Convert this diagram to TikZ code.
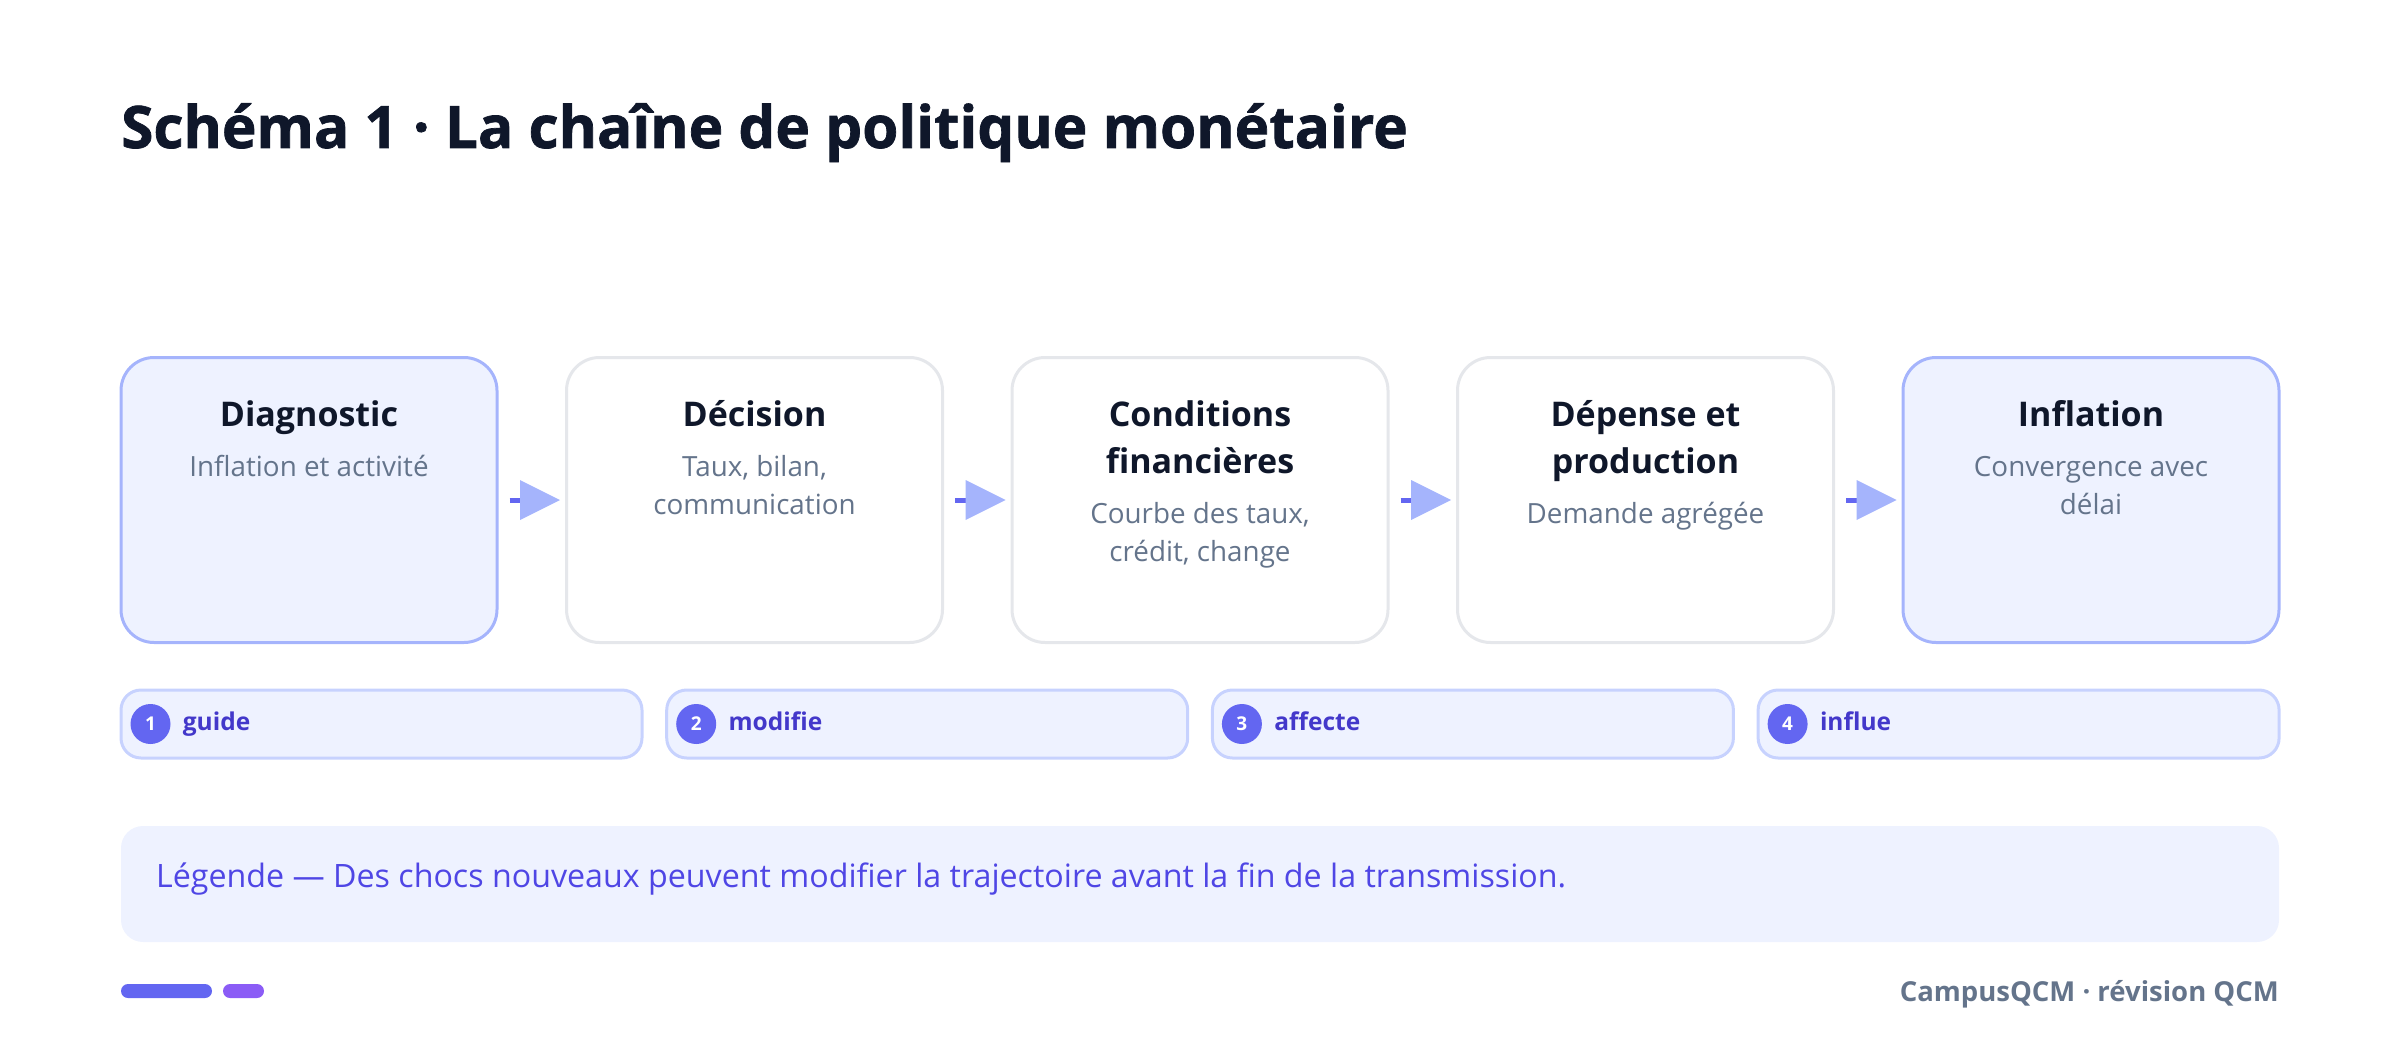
\documentclass[tikz,border=0pt]{standalone}
\usepackage{fontspec}
\setmainfont{Open Sans}
\newfontfamily\heavyfont{Open Sans}[BoldFeatures={FakeBold=1.2}]
\usetikzlibrary{positioning,arrows.meta}
\definecolor{ink}{HTML}{0F172A}
\definecolor{slate}{HTML}{64748B}
\definecolor{edgegray}{HTML}{E5E7EB}
\definecolor{softfill}{HTML}{EEF2FF}
\definecolor{softline}{HTML}{A5B4FC}
\definecolor{pillline}{HTML}{C7D2FE}
\definecolor{indigo}{HTML}{6366F1}
\definecolor{deepindigo}{HTML}{4338CA}
\definecolor{legendink}{HTML}{4F46E5}
\definecolor{violet}{HTML}{8B5CF6}
\begin{document}
\begin{tikzpicture}[x=1pt,y=-1pt,
  stage/.style={draw=edgegray,line width=3pt,rounded corners=33pt,fill=white,
    minimum width=376pt,minimum height=285pt,inner sep=0pt},
  stagehi/.style={stage,draw=softline,fill=softfill},
  head/.style={anchor=base,align=center,inner sep=0pt,text=ink,
    font=\bfseries\fontsize{34}{47}\selectfont},
  sub/.style={anchor=base,align=center,inner sep=0pt,text=slate,
    font=\fontsize{27.8}{38}\selectfont},
  link/.style={line width=5pt,draw=indigo,shorten <=11pt,shorten >=5pt,
    -{Triangle[length=40pt,width=40pt,color=softline,line width=0pt]}},
  pill/.style={draw=pillline,line width=3pt,fill=softfill,rounded corners=20pt,
    minimum width=521pt,minimum height=68pt,inner sep=0pt},
  badge/.style={circle,fill=indigo,text=white,minimum size=40pt,inner sep=0pt,
    font=\bfseries\fontsize{19}{19}\selectfont},
  verb/.style={inner sep=0pt,text=deepindigo,text height=18pt,text depth=5pt,
    font=\bfseries\fontsize{24.5}{24.5}\selectfont}]
\useasboundingbox (0,0) rectangle (2400,1051);

% Title
\node[anchor=base west,inner sep=0pt,text=ink,font=\heavyfont\bfseries\fontsize{58.5}{58.5}\selectfont]
  (title) at (121,148) {Schéma 1 · La chaîne de politique monétaire};

% Stages
\node[stagehi] (s1) at (309,500) {};
\node[stage] (s2) at (754.5,500) {};
\node[stage] (s3) at (1200,500) {};
\node[stage] (s4) at (1645.5,500) {};
\node[stagehi] (s5) at (2091,500) {};

% base of a multi-line node is its last line
\node[head] (h1) at ([yshift=-70pt]s1.north) {Diagnostic};
\node[sub] (t1) at ([yshift=-120pt]s1.north) {Inflation et activité};
\node[head] (h2) at ([yshift=-70pt]s2.north) {Décision};
\node[sub] (t2) at ([yshift=-158pt]s2.north) {Taux, bilan,\\communication};
\node[head] (h3) at ([yshift=-117pt]s3.north) {Conditions\\financières};
\node[sub] (t3) at ([yshift=-205pt]s3.north) {Courbe des taux,\\crédit, change};
\node[head] (h4) at ([yshift=-117pt]s4.north) {Dépense et\\production};
\node[sub] (t4) at ([yshift=-167pt]s4.north) {Demande agrégée};
\node[head] (h5) at ([yshift=-70pt]s5.north) {Inflation};
\node[sub] (t5) at ([yshift=-158pt]s5.north) {Convergence avec\\délai};

% Arrows
\draw[link] (s1.east) -- (s2.west);
\draw[link] (s2.east) -- (s3.west);
\draw[link] (s3.east) -- (s4.west);
\draw[link] (s4.east) -- (s5.west);

% Steps
\node[pill] (p1) at (381.5,724) {};
\node[pill] (p2) at (927.2,724) {};
\node[pill] (p3) at (1472.9,724) {};
\node[pill] (p4) at (2018.6,724) {};
\node[badge] (b1) at ([xshift=31pt]p1.west) {1};
\node[badge] (b2) at ([xshift=31pt]p2.west) {2};
\node[badge] (b3) at ([xshift=31pt]p3.west) {3};
\node[badge] (b4) at ([xshift=31pt]p4.west) {4};
\node[verb,right=12pt of b1] (v1) {guide};
\node[verb,right=12pt of b2] (v2) {modifie};
\node[verb,right=12pt of b3] (v3) {affecte};
\node[verb,right=12pt of b4] (v4) {influe};

% Legend
\node[fill=softfill,rounded corners=22pt,minimum width=2158pt,minimum height=116pt,
  inner sep=0pt] (legend) at (1200,884) {};
\node[anchor=base west,inner sep=0pt,text=legendink,font=\fontsize{32.2}{32.2}\selectfont]
  (legendtext) at (156,887) {Légende — Des chocs nouveaux peuvent modifier la trajectoire avant la fin de la transmission.};

% Footer
\fill[indigo,rounded corners=7pt] (121,984) rectangle (212,998);
\fill[violet,rounded corners=7pt] (223,984) rectangle (264,998);
\node[anchor=base east,inner sep=0pt,text=slate,font=\bfseries\fontsize{27.5}{27.5}\selectfont]
  (footer) at (2279,1001) {CampusQCM · révision QCM};
\end{tikzpicture}
\end{document}
